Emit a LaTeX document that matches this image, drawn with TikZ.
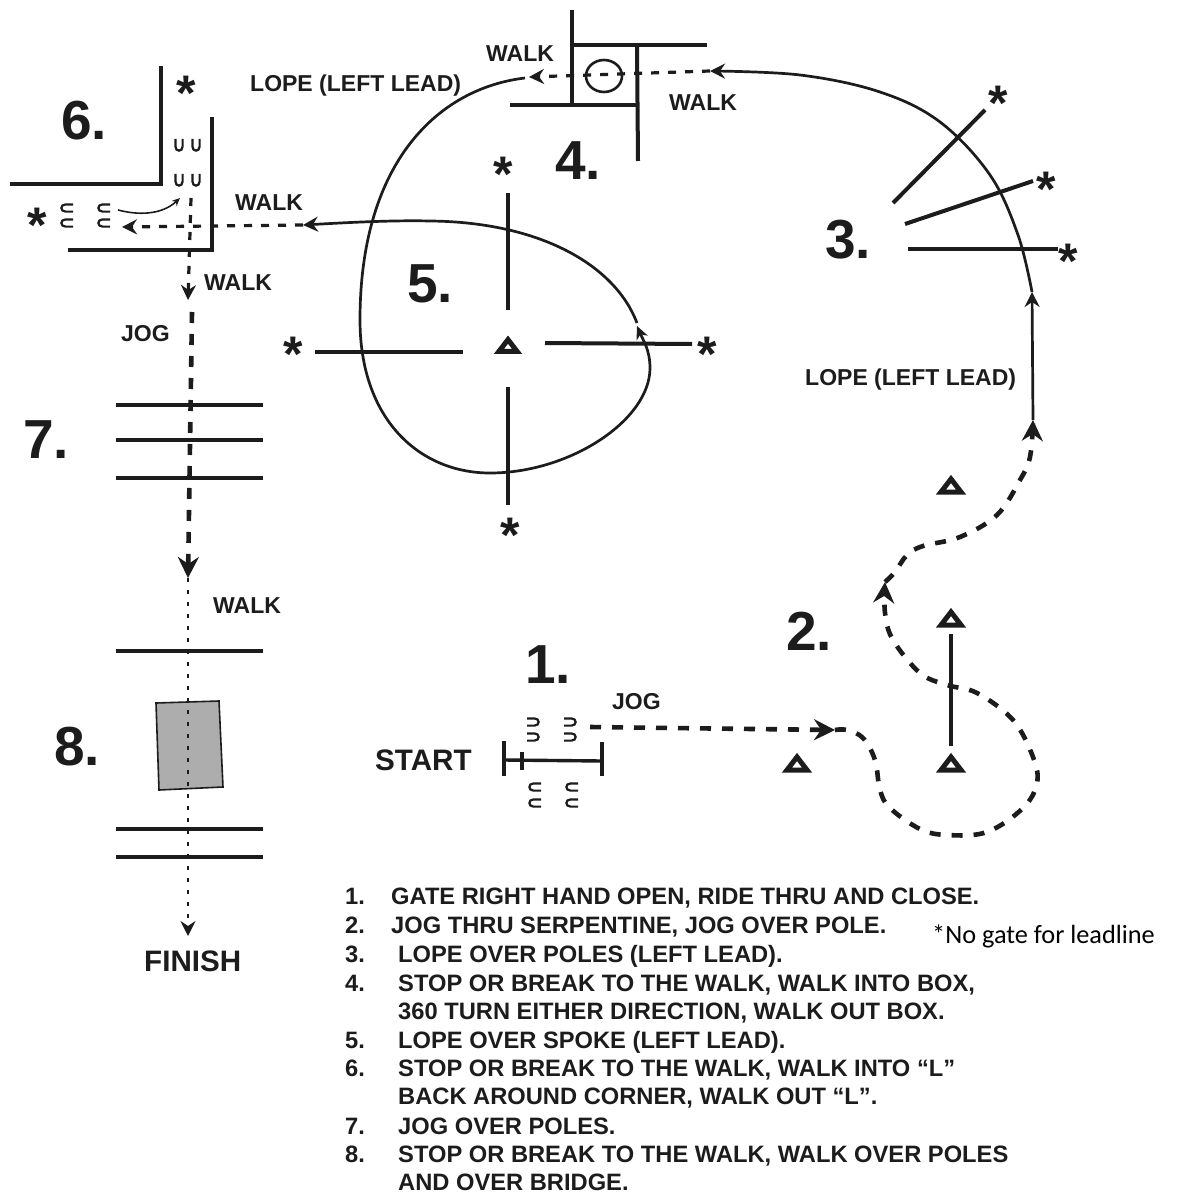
\documentclass[tikz,border=0pt]{standalone}
\usepackage{fontspec}
\setmainfont{Liberation Sans}
\newfontfamily\notefont{Carlito}
\usetikzlibrary{arrows.meta}
\definecolor{ink}{HTML}{1C1C1C}
\tikzset{
  pole/.style={line width=4pt,draw=ink,line cap=butt},
  polethin/.style={line width=3.4pt,draw=ink},
  solidpath/.style={line width=2.7pt,draw=ink},
  dashthick/.style={line width=4.6pt,draw=ink,dash pattern=on 11pt off 11pt},
  dashmid/.style={line width=3.2pt,draw=ink,dash pattern=on 8pt off 9pt},
  dashthin/.style={line width=2.4pt,draw=ink,dash pattern=on 4pt off 8pt},
  tipbig/.style={-{Stealth[length=21pt,width=21pt,inset=7pt]}},
  tipmid/.style={-{Stealth[length=15pt,width=15pt,inset=5pt]}},
  tipsmall/.style={-{Stealth[length=13pt,width=12pt,inset=4pt]}},
  lab/.style={anchor=base west,inner sep=0pt,text=ink,font=\bfseries\fontsize{23}{26}\selectfont},
  big/.style={anchor=base west,inner sep=0pt,text=ink,font=\bfseries\fontsize{55}{60}\selectfont},
  endword/.style={anchor=base west,inner sep=0pt,text=ink,font=\bfseries\fontsize{29.6}{32}\selectfont},
  legend/.style={anchor=base west,inner sep=0pt,text=ink,font=\bfseries\fontsize{23.7}{26}\selectfont},
  note/.style={anchor=base west,inner sep=0pt,text=black,font=\notefont\fontsize{26.3}{28}\selectfont},
  starmark/.style={anchor=base,inner sep=0pt,text=ink,font=\bfseries\fontsize{50}{50}\selectfont},
  shoe/.pic={\draw[line width=2.2pt,draw=ink] (-3.6,-6) -- (-3.6,1.5) .. controls (-3.6,7) and (3.6,7) .. (3.6,1.5) -- (3.6,-6);},
  cone/.pic={\draw[line width=5pt,draw=ink,line join=miter] (0,-6) -- (10,7) -- (-10,7) -- cycle;}
}
\begin{document}
\begin{tikzpicture}[x=1pt,y=-1pt]
\fill[white] (0,0) rectangle (1187,1193);
\useasboundingbox (0,0) rectangle (1187,1193);

% --- numbers
\node[big] (n1) at (525,683) {1.};
\node[big] (n2) at (786,650) {2.};
\node[big] (n3) at (825,258) {3.};
\node[big] (n4) at (555,180) {4.};
\node[big] (n5) at (407,302) {5.};
\node[big] (n6) at (61,140) {6.};
\node[big] (n7) at (23,458) {7.};
\node[big] (n8) at (54,765) {8.};

% --- labels
\node[lab] (w4a) at (486,62) {WALK};
\node[lab] (w4b) at (669,111) {WALK};
\node[lab] (w6a) at (235,211) {WALK};
\node[lab] (w6b) at (204,290) {WALK};
\node[lab] (w8)  at (213,613) {WALK};
\node[lab] (j7)  at (121,341) {JOG};
\node[lab] (j1)  at (612,709) {JOG};
\node[lab] (l5)  at (250,92) {LOPE (LEFT LEAD)};
\node[lab] (l3)  at (805,385) {LOPE (LEFT LEAD)};
\node[endword] (start) at (375,770) {START};
\node[endword] (finish) at (144,971) {FINISH};

% --- stars
\foreach \nm/\sx/\sy in {a/186/87,b/37/218,c/503/167,d/510/528,e/293/347,f/707/347,g/998/97,h/1046/182,i/1068/254}
  \node[starmark] (star\nm) at (\sx,\sy+24) {*};

% --- gate, obstacle 1
\draw[polethin] (504,741) -- (504,776);
\draw[polethin] (602,742) -- (602,776);
\draw[polethin] (522,752) -- (522,770);
\draw[polethin] (504,760) -- (602,761);
\foreach \sx/\sy in {533/722,533/737,570/722,570/737} \pic[rotate=90] at (\sx,\sy) {shoe};
\foreach \sx/\sy in {535/787,535/803,572/787,572/803} \pic[rotate=-90] at (\sx,\sy) {shoe};

% --- cones
\pic at (797,763) {cone};
\pic at (951,763) {cone};
\pic at (951,618) {cone};
\pic at (951,485) {cone};
\pic[scale=0.9] at (508,345) {cone};
\draw[pole] (951,634) -- (951,746);

% --- obstacle 3
\draw[pole] (893,203) -- (985,110);
\draw[pole] (905,224) -- (1033,181);
\draw[pole] (908,249) -- (1058,249);

% --- obstacle 4
\draw[pole] (572,10) -- (572,105);
\draw[pole] (572,45) -- (707,45);
\draw[pole] (637,45) -- (638,161);
\draw[pole] (510,105) -- (638,105);
\draw[line width=2.6pt,draw=ink] (604,76) ellipse [x radius=18,y radius=16];

% --- obstacle 5
\draw[pole] (508,193) -- (508,310);
\draw[pole] (508,387) -- (508,505);
\draw[pole] (315,352) -- (463,352);
\draw[pole] (545,343) -- (692,344);

% --- obstacle 6
\draw[pole,line join=miter] (161,66) -- (161,184) -- (10,184);
\draw[pole,line join=miter] (212,117) -- (212,250) -- (68,250);
\foreach \sx in {179,196} \foreach \sy in {145,180} \pic at (\sx,\sy) {shoe};
\foreach \sx/\sy in {67/208,67/223,104/208,104/223} \pic[rotate=-90] at (\sx,\sy) {shoe};

% --- obstacle 7, 8
\draw[pole] (116,405) -- (263,405);
\draw[pole] (116,440) -- (263,440);
\draw[pole] (116,478) -- (263,478);
\draw[pole] (116,651) -- (263,651);
\draw[line width=1.6pt,draw=ink,fill=black!32] (156,703) -- (219,701) -- (223,787) -- (159,790) -- cycle;
\draw[pole] (116,829) -- (263,829);
\draw[pole] (116,857) -- (263,857);

% --- route anchors
\coordinate (p1) at (590,727);
\coordinate (p2) at (835,730);
\coordinate (p3) at (885,582);
\coordinate (p4) at (1033,420);
\coordinate (p5) at (1032,292);
\coordinate (p6) at (710,71);
\coordinate (p7) at (529,77);
\coordinate (p8) at (525,78);
\coordinate (p9) at (637,326);
\coordinate (p9b) at (637,323);
\coordinate (p10) at (303,225);
\coordinate (p11) at (122,227);
\coordinate (p12) at (118,210);
\coordinate (p13) at (180,198);
\coordinate (p14) at (191,198);
\coordinate (p15) at (188,300);
\coordinate (p16) at (192,312);
\coordinate (p17) at (188,578);
\coordinate (p18) at (188,936);

% --- route
\draw[dashthick,tipbig] (p1) -- (p2);
\draw[dashthick,tipbig] plot[smooth,tension=0.6] coordinates {(p2) (847,730) (863,738) (875,760) (880,790) (890,808) (920,829) (947,835) (987,832) (1023,808) (1037,783) (1033,757) (1013,720) (977,693) (947,685) (920,673) (893,640) (885,613) (p3)};
\draw[dashthick,tipbig] plot[smooth,tension=0.6] coordinates {(p3) (895,572) (907,555) (923,546) (960,537) (997,515) (1020,480) (1030,457) (p4)};
\draw[solidpath,tipmid] (p4) -- (p5);
\draw[solidpath,tipmid] plot[smooth,tension=0.6] coordinates {(p5) (1018,235) (990,175) (940,122) (880,92) (800,75) (p6)};
\draw[dashmid,tipmid] (p6) -- (p7);
\draw[solidpath,tipsmall] (p8) .. controls (440,88) and (360,160) .. (360,320) .. controls (360,420) and (420,473) .. (490,473) .. controls (570,473) and (650,420) .. (650,368) .. controls (650,350) and (643,340) .. (p9);
\draw[solidpath,tipmid] (p9b) .. controls (615,265) and (540,222) .. (430,221) .. controls (390,220) and (340,223) .. (p10);
\draw[dashmid,tipmid] (p10) -- (p11);
\draw[line width=1.6pt,draw=ink,-{Stealth[length=8pt,width=7pt]}] (p12) .. controls (145,217) and (165,212) .. (p13);
\draw[dashmid,tipmid] (p14) -- (p15);
\draw[dashthick,tipbig] (p16) -- (p17);
\draw[dashthin,tipmid] (p17) -- (p18);

% --- legend
\node[legend] (t1a) at (345,904) {1.};
\node[legend] (t1) at (391,904) {GATE RIGHT HAND OPEN, RIDE THRU AND CLOSE.};
\node[legend] (t2a) at (345,933) {2.};
\node[legend] (t2) at (391,933) {JOG THRU SERPENTINE, JOG OVER POLE.};
\node[legend] (t3a) at (345,962) {3.};
\node[legend] (t3) at (398,962) {LOPE OVER POLES (LEFT LEAD).};
\node[legend] (t4a) at (345,991) {4.};
\node[legend] (t4) at (398,991) {STOP OR BREAK TO THE WALK, WALK INTO BOX,};
\node[legend] (t4b) at (398,1019) {360 TURN EITHER DIRECTION, WALK OUT BOX.};
\node[legend] (t5a) at (345,1048) {5.};
\node[legend] (t5) at (398,1048) {LOPE OVER SPOKE (LEFT LEAD).};
\node[legend] (t6a) at (345,1076) {6.};
\node[legend] (t6) at (398,1076) {STOP OR BREAK TO THE WALK, WALK INTO “L”};
\node[legend] (t6b) at (398,1104) {BACK AROUND CORNER, WALK OUT “L”.};
\node[legend] (t7a) at (345,1134) {7.};
\node[legend] (t7) at (398,1134) {JOG OVER POLES.};
\node[legend] (t8a) at (345,1162) {8.};
\node[legend] (t8) at (398,1162) {STOP OR BREAK TO THE WALK, WALK OVER POLES};
\node[legend] (t8b) at (398,1190) {AND OVER BRIDGE.};
\node[note] (nt) at (932,943) {*No gate for leadline};
\end{tikzpicture}
\end{document}
